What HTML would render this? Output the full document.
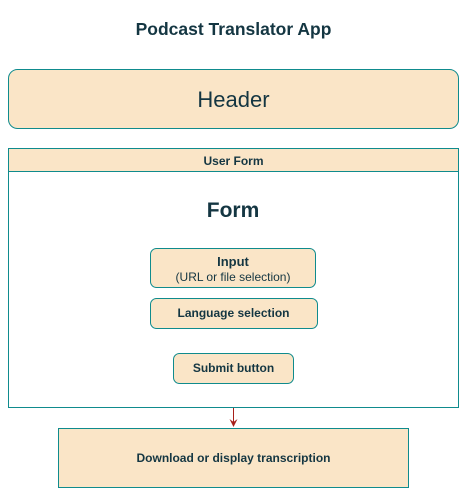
<!DOCTYPE html>
<html><head><style>body{margin:0;background:#fff;}</style></head><body>
<svg width="467" height="497" xmlns="http://www.w3.org/2000/svg" font-family="Liberation Sans, sans-serif" fill="#143642">
<text x="233.5" y="35" text-anchor="middle" font-size="17.5" font-weight="bold">Podcast Translator App</text>
<rect x="8.5" y="69.5" width="450" height="59" rx="9" fill="#FAE5C7" stroke="#0F8B8D"/>
<text x="233.5" y="107" text-anchor="middle" font-size="22" fill="#143642">Header</text>
<rect x="8.5" y="148.5" width="450" height="259" fill="#fff" stroke="#0F8B8D"/>
<rect x="8.5" y="148.5" width="450" height="23" fill="#FAE5C7" stroke="#0F8B8D"/>
<text x="233.5" y="165" text-anchor="middle" font-size="12" font-weight="bold">User Form</text>
<text x="233" y="217" text-anchor="middle" font-size="21" font-weight="bold">Form</text>
<rect x="150.5" y="248.5" width="165" height="39" rx="6" fill="#FAE5C7" stroke="#0F8B8D"/>
<text x="233" y="266" text-anchor="middle" font-size="13" font-weight="bold">Input</text>
<text x="233" y="281" text-anchor="middle" font-size="12">(URL or file selection)</text>
<rect x="150.5" y="298.5" width="167" height="30" rx="6" fill="#FAE5C7" stroke="#0F8B8D"/>
<text x="233.5" y="317" text-anchor="middle" font-size="12" font-weight="bold">Language selection</text>
<rect x="173.5" y="353.5" width="120" height="30" rx="6" fill="#FAE5C7" stroke="#0F8B8D"/>
<text x="233.5" y="372" text-anchor="middle" font-size="12" font-weight="bold">Submit button</text>
<line x1="233.5" y1="408" x2="233.5" y2="424" stroke="#A8201A"/>
<path d="M229.5 419 L233.5 427 L237.5 419 L233.5 422 Z" fill="#A8201A"/>
<rect x="58.5" y="428.5" width="350" height="59" fill="#FAE5C7" stroke="#0F8B8D"/>
<text x="233.5" y="462" text-anchor="middle" font-size="12" font-weight="bold">Download or display transcription</text>
</svg>
</body></html>
